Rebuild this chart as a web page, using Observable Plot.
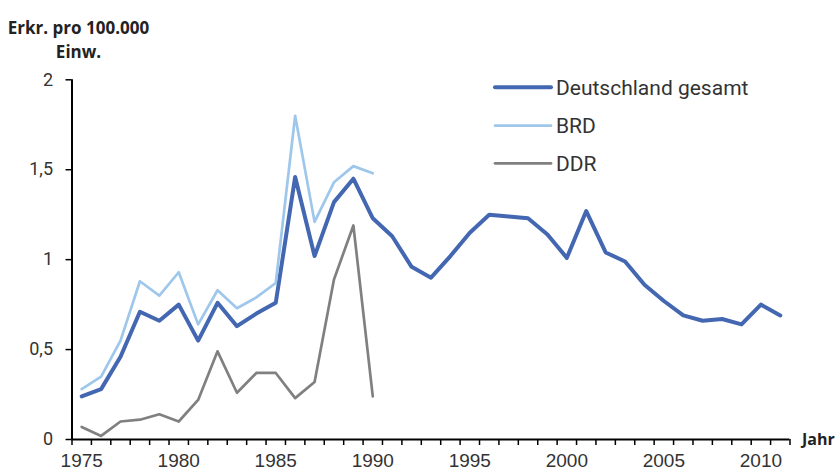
<!DOCTYPE html>
<html>
<head>
<meta charset="utf-8">
<script src="https://cdn.jsdelivr.net/npm/d3@7"></script>
<script src="https://cdn.jsdelivr.net/npm/@observablehq/plot@0.6"></script>
<style>
  body { margin: 0; background: #fff; }
  #chart { position: relative; width: 836px; height: 473px; }
</style>
</head>
<body>
<div id="chart"></div>
<script>
// ---- Data ----
const years = [1975, 1976, 1977, 1978, 1979, 1980, 1981, 1982, 1983, 1984,
               1985, 1986, 1987, 1988, 1989, 1990, 1991, 1992, 1993, 1994,
               1995, 1996, 1997, 1998, 1999, 2000, 2001, 2002, 2003, 2004,
               2005, 2006, 2007, 2008, 2009, 2010, 2011];
const gesamt = [0.24, 0.28, 0.46, 0.71, 0.66, 0.75, 0.55, 0.76, 0.63, 0.70,
                0.76, 1.46, 1.02, 1.32, 1.45, 1.23, 1.13, 0.96, 0.90, 1.02,
                1.15, 1.25, 1.24, 1.23, 1.14, 1.01, 1.27, 1.04, 0.99, 0.86,
                0.77, 0.69, 0.66, 0.67, 0.64, 0.75, 0.69];
const splitYears = [1975, 1976, 1977, 1978, 1979, 1980, 1981, 1982,
                    1983, 1984, 1985, 1986, 1987, 1988, 1989, 1990];
const brd = [0.28, 0.35, 0.55, 0.88, 0.80, 0.93, 0.64, 0.83,
             0.73, 0.79, 0.87, 1.80, 1.21, 1.43, 1.52, 1.48];
const ddr = [0.07, 0.02, 0.10, 0.11, 0.14, 0.10, 0.22, 0.49,
             0.26, 0.37, 0.37, 0.23, 0.32, 0.89, 1.19, 0.24];
const yTicks = [0, 0.5, 1, 1.5, 2];
const xLabelYears = [1975, 1980, 1985, 1990, 1995, 2000, 2005, 2010];
const seriesNames = ["Deutschland gesamt", "BRD", "DDR"];
const titleText = "Erkr. pro 100.000\nEinw.";
const xAxisTitle = "Jahr";

// ---- Styling ----
const colors = ["#4467b2", "#9ec7eb", "#808080"];
const widths = [4, 2.7, 2.7];

// ---- Build tables ----
const rows = [
  ...years.map((year, i) => ({year, value: gesamt[i], series: seriesNames[0]})),
  ...splitYears.map((year, i) => ({year, value: brd[i], series: seriesNames[1]})),
  ...splitYears.map((year, i) => ({year, value: ddr[i], series: seriesNames[2]}))
];
// category boundaries (Excel-style ticks between categories)
const boundaries = years.map(y => y - 0.5).concat([years[years.length - 1] + 0.5]);

const W = 836, H = 473;
const mL = 71.5, mR = 46.5, mT = 79.3, mB = 34;

const plot = Plot.plot({
  width: W,
  height: H,
  marginLeft: mL,
  marginRight: mR,
  marginTop: mT,
  marginBottom: mB,
  style: {fontFamily: "'Open Sans', sans-serif", color: "#333", background: "#fff", overflow: "visible"},
  x: {domain: [boundaries[0], boundaries[boundaries.length - 1]]},
  y: {domain: [yTicks[0], yTicks[yTicks.length - 1]]},
  marks: [
    Plot.axisY({ticks: yTicks, tickSize: 6, tickPadding: 13, strokeWidth: 1.5, stroke: "#000",
                tickFormat: d => String(d).replace(".", ","), label: null,
                fontSize: 18, fontFamily: "Roboto", fill: "#333"}),
    Plot.axisX({ticks: boundaries, tickSize: 6, strokeWidth: 1.5, stroke: "#000",
                tickFormat: () => "", label: null}),
    Plot.axisX({ticks: xLabelYears, tickSize: 0, tickPadding: 14, label: null,
                tickFormat: d => String(d), fontSize: 19,
                fontFamily: "'Liberation Sans', Arial, sans-serif", fill: "#333"}),
    ...seriesNames.map((s, i) => Plot.line(rows.filter(r => r.series === s), {
      x: "year", y: "value", stroke: colors[i], strokeWidth: widths[i],
      strokeLinejoin: "round", strokeLinecap: "round"
    })),
    Plot.ruleY([yTicks[0]], {stroke: "#000", strokeWidth: 2}),
    Plot.ruleX([boundaries[0]], {stroke: "#000", strokeWidth: 2}),
    Plot.text([titleText], {frameAnchor: "top-left", textAnchor: "middle", lineAnchor: "top",
      dx: 78 - mL, dy: 17.3 - mT, lineHeight: 1.38, fontSize: 17, fontWeight: "bold",
      fill: "#222", fontFamily: "'Open Sans', sans-serif"}),
    Plot.text([xAxisTitle], {frameAnchor: "bottom-right", textAnchor: "start", lineAnchor: "middle",
      dx: 12, dy: 0, fontSize: 16, fontWeight: "bold", fill: "#222",
      fontFamily: "'Open Sans', sans-serif"})
  ]
});

// ---- Legend (inside the plot area, top right) ----
const svg = d3.select(plot);
const legendRows = [87.3, 125.7, 163.3];
const lg = svg.append("g").attr("font-family", "Roboto").attr("font-size", 21)
  .attr("fill", "#333").attr("text-anchor", "start");
seriesNames.forEach((s, i) => {
  lg.append("line").attr("x1", 495).attr("x2", 551).attr("y1", legendRows[i]).attr("y2", legendRows[i])
    .attr("stroke", colors[i]).attr("stroke-width", widths[i]).attr("stroke-linecap", "round");
  lg.append("text").attr("x", 556).attr("y", legendRows[i]).attr("dy", "0.36em").text(s);
});

document.getElementById("chart").appendChild(plot);
</script>
</body>
</html>
